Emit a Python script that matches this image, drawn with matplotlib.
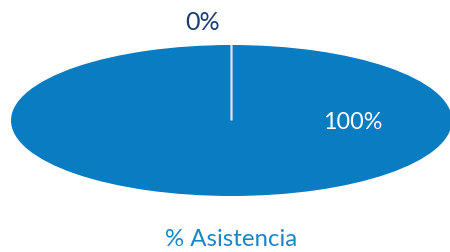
import matplotlib.pyplot as plt

# attendance share
labels = ["Asistencia", "Inasistencia"]
values = [100, 0]
pie_color = "#0a7cc1"
navy = "#1b3d72"

plt.rcParams["font.family"] = ["Lato", "DejaVu Sans"]

fig = plt.figure(figsize=(4.5, 2.52), dpi=100)
# axes covers the squashed pie (ellipse runs off the right edge a little)
ax = fig.add_axes([11 / 450, 56 / 252, 441 / 450, 151 / 252])

wedges, _ = ax.pie(
    values,
    startangle=90,
    counterclock=False,
    colors=[pie_color, pie_color],
    wedgeprops=dict(edgecolor="#dde6f0", linewidth=1.6),
)
wedges[0].set_edgecolor(pie_color)
wedges[0].set_linewidth(0)

ax.set_aspect("auto")
ax.set_xlim(-1, 1)
ax.set_ylim(-1, 1)
ax.axis("off")

# value labels
ax.text(0.55, -0.03, f"{values[0]}%", color="white", fontsize=16.8,
        ha="center", va="center")
ax.text(-0.13, 1.30, f"{values[1]}%", color=navy, fontsize=18,
        ha="center", va="center", clip_on=False)

fig.text(231 / 450, 1 - 239 / 252, f"% {labels[0]}", color="#1a86c8",
         fontsize=17.3, ha="center", va="center")

fig.savefig("out.png", dpi=100)
